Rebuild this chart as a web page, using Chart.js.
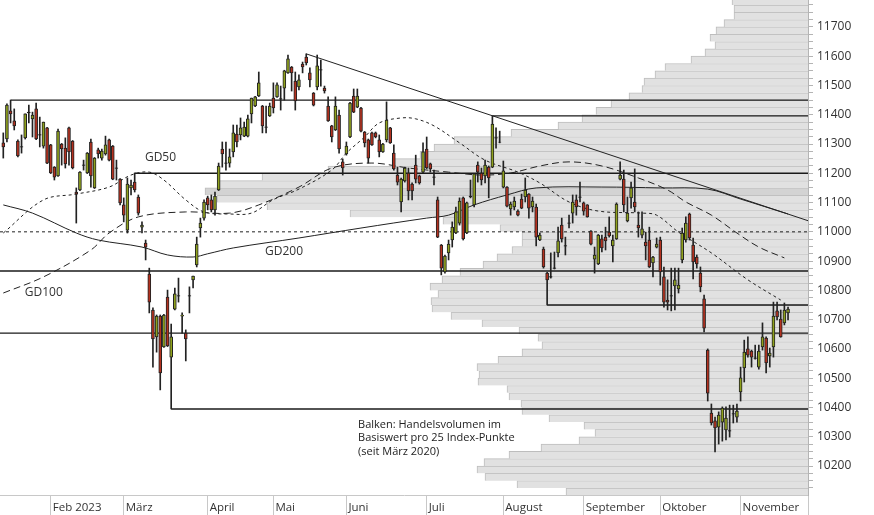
<!DOCTYPE html>
<html>
<head>
<meta charset="utf-8">
<script src="https://cdn.jsdelivr.net/npm/chart.js@4"></script>
<style>
  html, body { margin: 0; padding: 0; background: #fff; }
  canvas { display: block; }
</style>
</head>
<body>
<canvas id="chart" width="874" height="515"></canvas>
<script>
// daily candles, index = trading day (0 = 13 Jan 2023)
const opens = [
  11304, 11317, 11413, 11379, 11310, 11291, 11321, 11409, 11386, 11420,
  11332, 11293, 11355, 11297, 11221, 11191, 11300, 11286, 11355, 11310,
  11136, 11143, 11229, 11201, 11307, 11150, 11280, 11252, 11266, 11314,
  11293, 11219, 11180, 11092, 11006, 11150, 11170, 11119, 11016, 10962,
  10856, 10733, 10641, 10712, 10607, 10777, 10572, 10736, 10782, 10712,
  10654, 10782, 10836, 10887, 11013, 11047, 11116, 11109, 11075, 11143,
  11283, 11236, 11235, 11273, 11334, 11331, 11327, 11327, 11403, 11430,
  11464, 11430, 11359, 11396, 11457, 11461, 11455, 11491, 11543, 11563,
  11515, 11495, 11573, 11597, 11543, 11474, 11495, 11554, 11491, 11430,
  11362, 11348, 11399, 11239, 11266, 11324, 11464, 11426, 11423, 11341,
  11314, 11338, 11338, 11314, 11273, 11314, 11355, 11269, 11194, 11102,
  11174, 11201, 11163, 11228, 11191, 11204, 11283, 11232, 11188, 11109,
  10955, 10863, 10928, 10972, 10996, 11030, 11116, 10996, 11119, 11092,
  11228, 11201, 11191, 11221, 11221, 11322, 11306, 11153, 11153, 11078,
  11085, 11071, 11112, 11119, 11129, 11085, 11085, 10972, 10941, 10859,
  10847, 10877, 10928, 11023, 10953, 11031, 11064, 11109, 11120, 11099,
  11092, 11003, 10907, 10890, 10976, 10982, 10999, 10952, 10976, 11180,
  11180, 11037, 11116, 11102, 11023, 10989, 10965, 10972, 10894, 10948,
  10972, 10846, 10767, 10782, 10815, 10805, 10904, 10972, 11061, 10955,
  10914, 10859, 10771, 10596, 10381, 10354, 10333, 10350, 10323, 10321,
  10379, 10367, 10453, 10535, 10600, 10593, 10570, 10538, 10607, 10637,
  10576, 10607, 10730, 10702, 10689, 10723
];
const highs = [
  11338, 11437, 11450, 11420, 11314, 11331, 11403, 11433, 11409, 11440,
  11392, 11375, 11357, 11299, 11223, 11351, 11302, 11321, 11358, 11312,
  11150, 11206, 11245, 11271, 11317, 11254, 11286, 11283, 11327, 11317,
  11295, 11245, 11182, 11116, 11184, 11177, 11201, 11126, 11034, 10972,
  10876, 10740, 10716, 10716, 10718, 10801, 10685, 10808, 10842, 10723,
  10665, 10812, 10849, 10982, 11047, 11109, 11122, 11126, 11136, 11235,
  11307, 11307, 11283, 11365, 11365, 11389, 11375, 11399, 11457, 11463,
  11546, 11432, 11430, 11440, 11509, 11509, 11498, 11552, 11604, 11565,
  11546, 11536, 11580, 11608, 11560, 11476, 11604, 11587, 11498, 11461,
  11364, 11461, 11416, 11249, 11307, 11442, 11488, 11488, 11425, 11343,
  11317, 11341, 11341, 11331, 11302, 11444, 11357, 11297, 11221, 11184,
  11221, 11218, 11167, 11262, 11194, 11304, 11324, 11235, 11211, 11119,
  10957, 10921, 10972, 11034, 11085, 11116, 11119, 11102, 11177, 11200,
  11239, 11218, 11245, 11225, 11396, 11355, 11344, 11242, 11155, 11102,
  11119, 11075, 11129, 11184, 11131, 11119, 11095, 10996, 10948, 10862,
  10928, 10931, 11016, 11047, 10982, 11057, 11126, 11126, 11170, 11102,
  11093, 11004, 10948, 10991, 10989, 11016, 11051, 10989, 11099, 11239,
  11211, 11119, 11170, 11215, 11068, 11068, 10999, 11016, 10916, 10979,
  10982, 10880, 10836, 10876, 10876, 10876, 11013, 11051, 11064, 10979,
  10921, 10880, 10784, 10600, 10412, 10367, 10385, 10402, 10402, 10408,
  10408, 10412, 10538, 10630, 10641, 10596, 10613, 10613, 10689, 10641,
  10603, 10760, 10760, 10733, 10757, 10743
];
const lows = [
  11252, 11307, 11372, 11348, 11256, 11269, 11317, 11372, 11324, 11315,
  11290, 11286, 11233, 11199, 11177, 11189, 11228, 11218, 11228, 11215,
  11030, 11141, 11211, 11199, 11153, 11148, 11252, 11245, 11262, 11242,
  11178, 11177, 11092, 11034, 10996, 11126, 11136, 11057, 10996, 10904,
  10723, 10538, 10589, 10460, 10605, 10608, 10395, 10733, 10760, 10654,
  10559, 10723, 10808, 10880, 10982, 11040, 11075, 11068, 11057, 11141,
  11221, 11211, 11221, 11256, 11290, 11314, 11325, 11324, 11372, 11428,
  11462, 11338, 11338, 11394, 11406, 11459, 11416, 11450, 11541, 11481,
  11416, 11485, 11543, 11570, 11495, 11430, 11485, 11498, 11474, 11377,
  11307, 11346, 11269, 11194, 11262, 11322, 11407, 11424, 11341, 11290,
  11235, 11295, 11321, 11256, 11271, 11307, 11302, 11211, 11160, 11068,
  11170, 11109, 11109, 11167, 11163, 11201, 11216, 11204, 11160, 10980,
  10853, 10859, 10904, 10948, 10994, 11023, 10972, 10994, 11116, 11085,
  11170, 11160, 11167, 11116, 11219, 11286, 11304, 11150, 11085, 11057,
  11075, 11054, 11079, 11102, 11047, 11068, 10952, 10970, 10876, 10750,
  10842, 10873, 10914, 10965, 10921, 11013, 11030, 11057, 11102, 11057,
  11050, 10955, 10859, 10888, 10931, 10938, 10982, 10897, 10974, 11177,
  11068, 11034, 11081, 11068, 10982, 10979, 10904, 10878, 10846, 10945,
  10818, 10743, 10733, 10730, 10733, 10791, 10894, 10965, 10972, 10839,
  10876, 10795, 10658, 10422, 10340, 10248, 10275, 10285, 10289, 10299,
  10347, 10350, 10422, 10487, 10572, 10538, 10565, 10531, 10596, 10518,
  10538, 10572, 10699, 10640, 10682, 10699
];
const closes = [
  11290, 11433, 11403, 11362, 11259, 11289, 11403, 11406, 11399, 11317,
  11330, 11375, 11235, 11201, 11187, 11344, 11283, 11232, 11273, 11218,
  11129, 11204, 11227, 11269, 11191, 11252, 11266, 11276, 11297, 11245,
  11180, 11217, 11099, 11057, 11163, 11160, 11143, 11064, 11023, 10948,
  10760, 10634, 10712, 10518, 10716, 10610, 10641, 10788, 10780, 10716,
  10634, 10780, 10849, 10958, 11030, 11102, 11092, 11075, 11122, 11225,
  11266, 11234, 11256, 11338, 11307, 11355, 11358, 11386, 11457, 11461,
  11509, 11362, 11357, 11430, 11423, 11502, 11453, 11550, 11591, 11543,
  11447, 11519, 11563, 11577, 11519, 11433, 11567, 11552, 11481, 11379,
  11324, 11430, 11283, 11218, 11293, 11440, 11409, 11464, 11344, 11304,
  11252, 11297, 11324, 11273, 11300, 11382, 11304, 11215, 11170, 11180,
  11218, 11140, 11140, 11180, 11167, 11273, 11218, 11215, 11186, 10982,
  10876, 10917, 10958, 11016, 11068, 11105, 10976, 11099, 11122, 11198,
  11204, 11177, 11228, 11184, 11368, 11320, 11307, 11208, 11088, 11095,
  11105, 11057, 11081, 11143, 11081, 11105, 10982, 10989, 10880, 10836,
  10845, 10875, 10969, 10976, 10951, 11029, 11102, 11085, 11118, 11071,
  11051, 10958, 10921, 10989, 10945, 10969, 10986, 10972, 11095, 11194,
  11092, 11064, 11150, 11085, 11013, 11010, 10952, 10880, 10914, 10958,
  10863, 10760, 10760, 10780, 10836, 10818, 10996, 11030, 10979, 10897,
  10890, 10812, 10671, 10449, 10347, 10330, 10374, 10398, 10364, 10319,
  10377, 10388, 10501, 10589, 10579, 10572, 10568, 10593, 10641, 10552,
  10586, 10712, 10709, 10641, 10733, 10736
];

// month axis
const monthLabels = ["Feb 2023", "März", "April", "Mai", "Juni", "Juli", "August", "September", "Oktober", "November"];
const monthStarts = [13, 33, 56, 74, 94, 116, 137, 159, 180, 202];

// moving averages (day index, level)
const gd50Days = [0, 11, 20, 29, 35, 40, 44, 50, 55, 62, 68, 74, 81, 90, 94, 99, 103, 109, 113, 118, 125, 132, 141, 147, 155, 163, 175, 179, 185, 194, 204, 213];
const gd50 = [10996, 11109, 11129, 11153, 11194, 11204, 11177, 11109, 11068, 11061, 11064, 11110, 11146, 11211, 11269, 11324, 11372, 11389, 11386, 11362, 11304, 11245, 11204, 11167, 11102, 11071, 11064, 11057, 10999, 10928, 10836, 10767];
const gd100Days = [0, 11, 24, 29, 37, 50, 62, 70, 81, 90, 101, 111, 122, 131, 139, 147, 155, 164, 174, 182, 187, 194, 201, 207, 214];
const gd100 = [10791, 10846, 10938, 10996, 11051, 11068, 11064, 11092, 11153, 11218, 11235, 11218, 11204, 11194, 11201, 11225, 11239, 11225, 11184, 11143, 11102, 11057, 10996, 10948, 10911];
const gd200Days = [0, 8, 20, 26, 38, 45, 52, 56, 63, 81, 98, 116, 122, 129, 138, 146, 164, 180, 193, 202, 215];
const gd200 = [11092, 11064, 10996, 10972, 10948, 10921, 10914, 10925, 10945, 10979, 11013, 11047, 11057, 11092, 11126, 11150, 11153, 11150, 11146, 11112, 11061];

// horizontal levels (start day, null = whole width)
const levelValues = [11450, 11396, 11200, 11000, 10866, 10750, 10654, 10395];
const levelFrom = [2, 134, 36, null, null, 149, null, 46];
// trend line from the May high
const trendFrom = [83, 11608];
const trendTo = 11038;

// volume profile, 25 index points per bar
const profileLevels = [
  10100, 10125, 10150, 10175, 10200, 10225, 10250, 10275, 10300, 10325,
  10350, 10375, 10400, 10425, 10450, 10475, 10500, 10525, 10550, 10575,
  10600, 10625, 10650, 10675, 10700, 10725, 10750, 10775, 10800, 10825,
  10850, 10875, 10900, 10925, 10950, 10975, 11000, 11025, 11050, 11075,
  11100, 11125, 11150, 11175, 11200, 11225, 11250, 11275, 11300, 11325,
  11350, 11375, 11400, 11425, 11450, 11475, 11500, 11525, 11550, 11575,
  11600, 11625, 11650, 11675, 11700, 11725, 11750, 11775
];
const profileVolume = [
  242, 291, 323, 331, 324, 299, 267, 229, 213, 224,
  259, 286, 287, 299, 301, 330, 329, 331, 310, 286,
  266, 270, 289, 326, 357, 376, 377, 370, 378, 366,
  348, 325, 311, 296, 286, 286, 308, 365, 458, 541,
  591, 603, 590, 546, 480, 416, 388, 374, 354, 297,
  250, 226, 212, 197, 179, 166, 164, 153, 143, 117,
  103, 93, 98, 92, 84, 74, 74, 76
];

const X_MIN = -0.9, X_MAX = 220.47;
const Y_MIN = 10101, Y_MAX = 11792;
const VOL_MAX = 808;

const GREEN = "#8fa11d", RED = "#b3311f", INK = "#222";
const maxVol = Math.max(...profileVolume);

const bodyColors = opens.map((o, i) => {
  if (Math.abs(closes[i] - o) < 4) return INK;
  return closes[i] >= o ? GREEN : RED;
});

function lineSet(points, extra) {
  return Object.assign({
    type: "line",
    data: points,
    borderColor: INK,
    borderWidth: 1,
    pointRadius: 0,
    fill: false,
    xAxisID: "x",
    yAxisID: "y",
    order: 5,
  }, extra);
}

const levelSets = levelValues.map((v, k) => lineSet(
  [{ x: levelFrom[k] === null ? X_MIN : levelFrom[k], y: v }, { x: X_MAX, y: v }],
  v === 11000 ? { borderDash: [3, 3] } : { borderWidth: 1.4, borderColor: "#1a1a1a" }
));

const maLabels = [
  { text: "GD50", x: 38.8, y: 11252 },
  { text: "GD100", x: 5.9, y: 10793 },
  { text: "GD200", x: 71.7, y: 10933 },
];
const noteLines = ["Balken: Handelsvolumen im", "Basiswert pro 25 Index-Punkte", "(seit März 2020)"];
const noteAt = { x: 97.2, y: [10340, 10295, 10247] };

const textPlugin = {
  id: "texts",
  afterDatasetsDraw(chart) {
    const { ctx, scales } = chart;
    const sx = scales.x, sy = scales.y;
    ctx.save();
    ctx.fillStyle = "#333";
    ctx.textBaseline = "middle";
    ctx.textAlign = "left";
    ctx.font = '12px "Open Sans"';
    maLabels.forEach((l) => ctx.fillText(l.text, sx.getPixelForValue(l.x), sy.getPixelForValue(l.y)));
    ctx.fillStyle = "#222";
    ctx.font = '11px "Open Sans"';
    noteLines.forEach((t, k) => ctx.fillText(t, sx.getPixelForValue(noteAt.x), sy.getPixelForValue(noteAt.y[k])));
    ctx.restore();
  },
};

new Chart(document.getElementById("chart"), {
  type: "bar",
  data: {
    datasets: [
      {
        label: "Volumen",
        indexAxis: "y",
        data: profileLevels.map((lv, k) => ({ x: profileVolume[k], y: lv + 12.5 })),
        backgroundColor: profileVolume.map((v) => (v === maxVol ? "#d3d3d3" : "#e1e1e1")),
        borderColor: "#bdbdbd",
        borderWidth: { top: 1, left: 1, bottom: 0, right: 0 },
        borderSkipped: false,
        categoryPercentage: 1,
        barPercentage: 1,
        grouped: false,
        xAxisID: "xv",
        yAxisID: "yv",
        order: 10,
      },
      lineSet(gd50Days.map((d, k) => ({ x: d, y: gd50[k] })), { borderDash: [3, 3], tension: 0.35 }),
      lineSet(gd100Days.map((d, k) => ({ x: d, y: gd100[k] })), { borderDash: [7, 4], tension: 0.35 }),
      lineSet(gd200Days.map((d, k) => ({ x: d, y: gd200[k] })), { tension: 0.35 }),
      lineSet([{ x: trendFrom[0], y: trendFrom[1] }, { x: X_MAX, y: trendTo }], {}),
      ...levelSets,
      {
        label: "Docht",
        data: lows.map((l, i) => ({ x: i, y: [l, highs[i]] })),
        backgroundColor: INK,
        borderWidth: 0,
        barThickness: 1,
        grouped: false,
        xAxisID: "x",
        yAxisID: "y",
        order: 2,
      },
      {
        label: "Kerze",
        data: opens.map((o, i) => ({ x: i, y: [o, closes[i]] })),
        backgroundColor: bodyColors,
        borderColor: INK,
        borderWidth: 1,
        borderSkipped: false,
        barThickness: 3,
        grouped: false,
        xAxisID: "x",
        yAxisID: "y",
        order: 1,
      },
    ],
  },
  options: {
    responsive: false,
    animation: false,
    events: [],
    devicePixelRatio: 1,
    layout: { padding: 0 },
    plugins: { legend: { display: false }, tooltip: { enabled: false } },
    scales: {
      x: {
        type: "linear",
        axis: "x",
        position: "bottom",
        min: X_MIN,
        max: X_MAX,
        offset: false,
        afterBuildTicks: (axis) => {
          axis.ticks = monthStarts.map((v) => ({ value: v })).concat([{ value: X_MAX }]);
        },
        afterFit: (axis) => {
          axis.height = 20;
          axis.paddingLeft = 0;
          axis.paddingRight = 0;
        },
        grid: { offset: false, drawOnChartArea: false, drawTicks: true, tickLength: 20, color: "#c8c8c8" },
        border: { display: true, color: "#c8c8c8" },
        ticks: {
          autoSkip: false,
          maxRotation: 0,
          align: "start",
          labelOffset: 2,
          padding: -14,
          color: "#333",
          font: { family: "Open Sans", size: 11.5 },
          callback: (v, i) => monthLabels[i] || "",
        },
      },
      y: {
        type: "linear",
        axis: "y",
        position: "right",
        min: Y_MIN,
        max: Y_MAX,
        afterFit: (axis) => {
          axis.width = 66;
          axis.paddingTop = 0;
          axis.paddingBottom = 0;
        },
        grid: { drawOnChartArea: false, drawTicks: true, tickLength: 5, color: "#b4b4b4" },
        border: { display: true, color: "#b4b4b4" },
        ticks: {
          stepSize: 25,
          maxTicksLimit: 200,
          includeBounds: false,
          autoSkip: false,
          padding: 4,
          color: "#333",
          font: { family: "Open Sans", size: 12 },
          callback: (v) => (v % 100 === 0 ? String(v) : ""),
        },
      },
      xv: {
        type: "linear",
        axis: "x",
        display: false,
        reverse: true,
        min: 0,
        max: VOL_MAX,
        offset: false,
        grid: { offset: false },
      },
      yv: {
        type: "linear",
        axis: "y",
        display: false,
        min: Y_MIN,
        max: Y_MAX,
        offset: false,
      },
    },
  },
  plugins: [textPlugin],
});
</script>
</body>
</html>
